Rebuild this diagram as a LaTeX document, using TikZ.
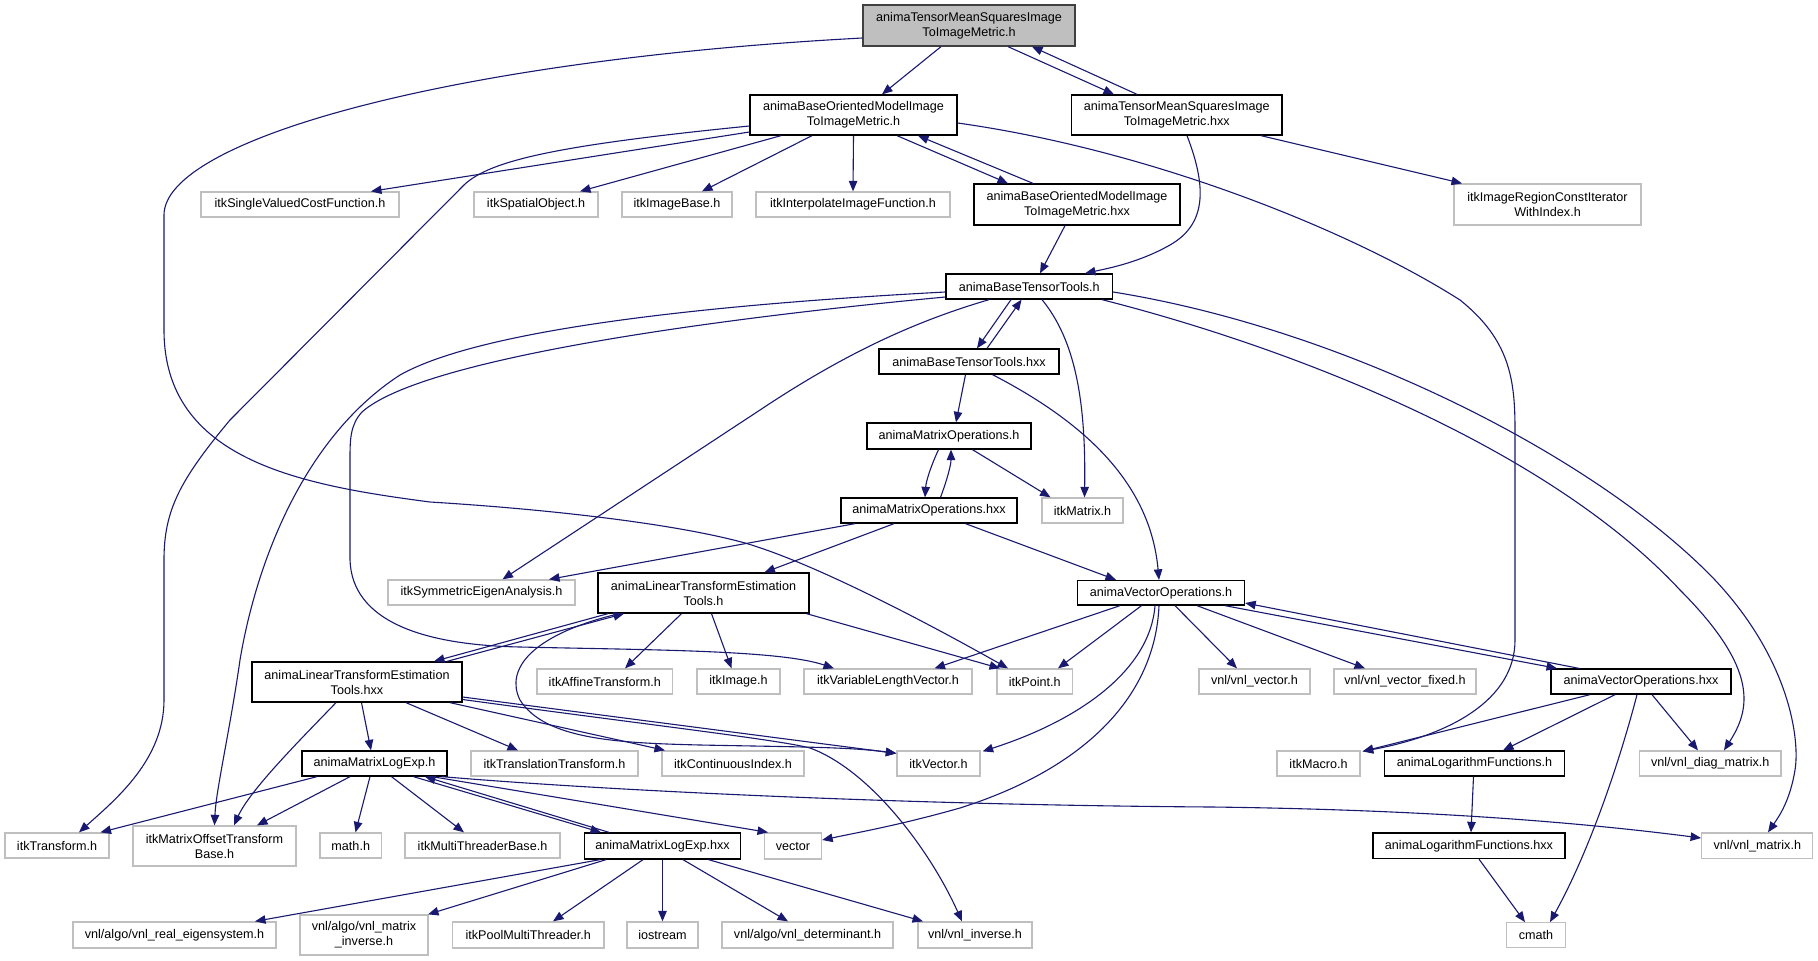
\documentclass[tikz,border=0pt]{standalone}
\usepackage{fontspec}
\setmainfont{Liberation Sans}
\usetikzlibrary{arrows.meta}
\definecolor{edgeblue}{HTML}{191970}
\definecolor{nodegray}{HTML}{BFBFBF}
\newcommand{\nf}{\fontsize{12.6pt}{15pt}\selectfont}
\tikzset{
  basebox/.style={rectangle, inner sep=0pt, align=center, font=\nf, line width=1.3pt, fill=white},
  abox/.style={basebox, draw=black},
  gbox/.style={basebox, draw=nodegray},
  tbox/.style={basebox, draw=black!75, fill=nodegray},
  dep/.style={draw=edgeblue, line width=1.1pt, -{Triangle[length=10.5pt,width=8.5pt]}}
}
\begin{document}
\begin{tikzpicture}[x=1pt,y=-1pt]
\useasboundingbox (0,0) rectangle (1818,961);
\fill[white] (0,0) rectangle (1818,961);
% nodes
\node[tbox, minimum width=212pt, minimum height=41pt] (top) at (969,25.5) {animaTensorMeanSquaresImage\\ToImageMetric.h};
\node[abox, minimum width=207pt, minimum height=40pt] (bomh) at (853.5,115) {animaBaseOrientedModelImage\\ToImageMetric.h};
\node[abox, minimum width=210.5pt, minimum height=40pt] (tmshxx) at (1176.75,115) {animaTensorMeanSquaresImage\\ToImageMetric.hxx};
\node[gbox, minimum width=198pt, minimum height=25pt] (svcf) at (300,204.5) {itkSingleValuedCostFunction.h};
\node[gbox, minimum width=124pt, minimum height=25pt] (spatial) at (536,204.5) {itkSpatialObject.h};
\node[gbox, minimum width=110pt, minimum height=25pt] (imagebase) at (677,204.5) {itkImageBase.h};
\node[gbox, minimum width=194pt, minimum height=25pt] (interp) at (853,204.5) {itkInterpolateImageFunction.h};
\node[abox, minimum width=206pt, minimum height=41pt] (bomhxx) at (1077,204.5) {animaBaseOrientedModelImage\\ToImageMetric.hxx};
\node[gbox, minimum width=187pt, minimum height=41pt] (iterwi) at (1547.5,204.5) {itkImageRegionConstIterator\\WithIndex.h};
\node[abox, minimum width=166.5pt, minimum height=25pt] (btt) at (1029.25,286.5) {animaBaseTensorTools.h};
\node[abox, minimum width=180pt, minimum height=25pt] (btthxx) at (969,361.5) {animaBaseTensorTools.hxx};
\node[abox, minimum width=164pt, minimum height=26pt] (mop) at (949,436) {animaMatrixOperations.h};
\node[abox, minimum width=176pt, minimum height=25pt] (mophxx) at (929,510.5) {animaMatrixOperations.hxx};
\node[gbox, minimum width=81pt, minimum height=25pt] (itkmatrix) at (1082.5,510.5) {itkMatrix.h};
\node[gbox, minimum width=187pt, minimum height=25pt] (symeig) at (481.5,592.5) {itkSymmetricEigenAnalysis.h};
\node[abox, minimum width=211pt, minimum height=40pt] (lteh) at (703.5,593) {animaLinearTransformEstimation\\Tools.h};
\node[abox, minimum width=167pt, minimum height=24.5pt] (voh) at (1161,592.75) {animaVectorOperations.h};
\node[abox, minimum width=210pt, minimum height=40pt] (ltehxx) at (357,682) {animaLinearTransformEstimation\\Tools.hxx};
\node[gbox, minimum width=135.5pt, minimum height=25pt] (affine) at (604.75,681.5) {itkAffineTransform.h};
\node[gbox, minimum width=83pt, minimum height=25pt] (itkimage) at (738.5,681.5) {itkImage.h};
\node[gbox, minimum width=168pt, minimum height=25pt] (varlen) at (888,681.5) {itkVariableLengthVector.h};
\node[gbox, minimum width=75.5pt, minimum height=25pt] (itkpoint) at (1034.75,681.5) {itkPoint.h};
\node[gbox, minimum width=111pt, minimum height=25pt] (vnlvector) at (1254.5,681.5) {vnl/vnl\_vector.h};
\node[gbox, minimum width=142pt, minimum height=25pt] (vnlvecfixed) at (1405,681.5) {vnl/vnl\_vector\_fixed.h};
\node[abox, minimum width=180pt, minimum height=25pt] (vohxx) at (1641,681.5) {animaVectorOperations.hxx};
\node[abox, minimum width=145pt, minimum height=25pt] (mleh) at (374.5,763.5) {animaMatrixLogExp.h};
\node[gbox, minimum width=167pt, minimum height=25pt] (transl) at (554.5,763.5) {itkTranslationTransform.h};
\node[gbox, minimum width=142pt, minimum height=25pt] (contidx) at (733,763.5) {itkContinuousIndex.h};
\node[gbox, minimum width=83pt, minimum height=25pt] (itkvector) at (938.5,763.5) {itkVector.h};
\node[gbox, minimum width=83pt, minimum height=25pt] (itkmacro) at (1318.5,763.5) {itkMacro.h};
\node[abox, minimum width=180pt, minimum height=25pt] (logfh) at (1474.5,763.5) {animaLogarithmFunctions.h};
\node[gbox, minimum width=141.5pt, minimum height=25pt] (diagm) at (1710.25,763.5) {vnl/vnl\_diag\_matrix.h};
\node[gbox, minimum width=104pt, minimum height=25pt] (itktransform) at (57,845.5) {itkTransform.h};
\node[gbox, minimum width=163pt, minimum height=40pt] (mobase) at (214.5,846) {itkMatrixOffsetTransform\\Base.h};
\node[gbox, minimum width=61.5pt, minimum height=25pt] (mathh) at (350.75,845.5) {math.h};
\node[gbox, minimum width=155pt, minimum height=25pt] (mtbase) at (482.5,845.5) {itkMultiThreaderBase.h};
\node[abox, minimum width=156pt, minimum height=26pt] (mlehxx) at (662.5,846) {animaMatrixLogExp.hxx};
\node[gbox, minimum width=57pt, minimum height=26pt] (vectorn) at (793,846) {vector};
\node[abox, minimum width=192pt, minimum height=25.5pt] (logfhxx) at (1469,845.75) {animaLogarithmFunctions.hxx};
\node[gbox, minimum width=111pt, minimum height=25.5pt] (vnlmatrix) at (1757.25,845.75) {vnl/vnl\_matrix.h};
\node[gbox, minimum width=203pt, minimum height=26pt] (realeig) at (174.5,935) {vnl/algo/vnl\_real\_eigensystem.h};
\node[gbox, minimum width=128pt, minimum height=40pt] (matinv) at (364,935) {vnl/algo/vnl\_matrix\\\_inverse.h};
\node[gbox, minimum width=151.5pt, minimum height=26pt] (poolmt) at (528.25,935) {itkPoolMultiThreader.h};
\node[gbox, minimum width=71pt, minimum height=26pt] (iostream) at (662.5,935) {iostream};
\node[gbox, minimum width=171pt, minimum height=26pt] (determ) at (807.5,935) {vnl/algo/vnl\_determinant.h};
\node[gbox, minimum width=114pt, minimum height=26pt] (vnlinv) at (975,935) {vnl/vnl\_inverse.h};
\node[gbox, minimum width=58.5pt, minimum height=25pt] (cmath) at (1536,935.25) {cmath};
% edges: top
\draw[dep] ([xshift=-28pt]top.south) -- ([xshift=28.5pt]bomh.north);
\draw[dep] ([xshift=39pt]top.south) -- ([xshift=-62.75pt]tmshxx.north);
\draw[dep] ([xshift=-39.75pt]tmshxx.north) -- ([xshift=63pt]top.south);
\draw[dep] ([yshift=-12.5pt]top.west) .. controls (450,60) and (164,140) .. (164,215) -- (164,330) .. controls (164,460) and (300,485) .. (430,502) .. controls (560,510) and (680,525) .. (745,543) .. controls (820,565) and (940,630) .. ([xshift=-26.75pt]itkpoint.north);
% bomh
\draw[dep] ([yshift=-17pt]bomh.west) -- ([xshift=71pt]svcf.north);
\draw[dep] ([yshift=-11pt]bomh.west) .. controls (560,145) and (490,160) .. (464,185) -- (230,420) .. controls (180,480) and (164,510) .. (164,560) -- (164,700) .. controls (164,760) and (115,800) .. ([xshift=22pt]itktransform.north);
\draw[dep] ([xshift=-72.5pt]bomh.south) -- ([xshift=44pt]spatial.north);
\draw[dep] ([xshift=-41.5pt]bomh.south) -- ([xshift=25pt]imagebase.north);
\draw[dep] (bomh.south) -- (interp.north);
\draw[dep] ([xshift=43.5pt]bomh.south) -- ([xshift=-69pt]bomhxx.north);
\draw[dep] ([xshift=-44pt]bomhxx.north) -- ([xshift=64.5pt]bomh.south);
\draw[dep] ([yshift=-8pt]bomh.east) .. controls (1150,150) and (1350,230) .. (1460,300) .. controls (1510,340) and (1515,380) .. (1515,430) -- (1515,640) .. controls (1515,700) and (1450,735) .. ([xshift=2pt,yshift=-1pt]itkmacro.north east);
% tmshxx, bomhxx
\draw[dep] ([xshift=10.25pt]tmshxx.south) .. controls (1208,190) and (1205,225) .. (1170,245) .. controls (1140,262) and (1110,268) .. ([xshift=55.75pt]btt.north);
\draw[dep] ([xshift=84.25pt]tmshxx.south) -- ([xshift=-85.5pt]iterwi.north);
\draw[dep] ([xshift=-12pt]bomhxx.south) -- ([xshift=10.75pt]btt.north);
% btt
\draw[dep] ([yshift=-5.5pt]btt.west) .. controls (700,305) and (480,330) .. (400,375) .. controls (300,440) and (255,570) .. (240,660) .. controls (230,730) and (216,790) .. (mobase.north);
\draw[dep] ([yshift=-10.5pt]btt.west) .. controls (700,320) and (420,360) .. (362,412) .. controls (350,425) and (350,440) .. (350,460) -- (350,560) .. controls (352,620) and (420,645) .. (520,647) .. controls (650,650) and (780,650) .. ([xshift=-54pt]varlen.north);
\draw[dep] ([xshift=-40.25pt]btt.south) .. controls (920,320) and (850,350) .. (760,410) -- ([xshift=21pt]symeig.north);
\draw[dep] ([xshift=-18.25pt]btt.south) -- ([xshift=8pt]btthxx.north);
\draw[dep] ([xshift=18pt]btthxx.north) -- ([xshift=-7.75pt]btt.south);
\draw[dep] ([xshift=12.75pt]btt.south) .. controls (1075,340) and (1086,400) .. ([xshift=2pt]itkmatrix.north);
\draw[dep] ([xshift=72.75pt]btt.south) .. controls (1300,350) and (1550,450) .. (1680,590) .. controls (1760,670) and (1750,710) .. ([xshift=13.75pt]diagm.north);
\draw[dep] ([yshift=-5.5pt]btt.east) .. controls (1350,330) and (1600,460) .. (1715,580) .. controls (1790,660) and (1800,740) .. (1795,770) .. controls (1790,800) and (1780,815) .. ([xshift=10.75pt]vnlmatrix.north);
% btthxx, mop
\draw[dep] ([xshift=-3.5pt]btthxx.south) -- ([xshift=7pt]mop.north);
\draw[dep] ([xshift=23.5pt]btthxx.south) .. controls (1080,420) and (1150,480) .. ([xshift=-2pt]voh.north);
\draw[dep] ([xshift=-10.5pt]mop.south) .. controls (930,468) and (926,482) .. ([xshift=-4pt]mophxx.north);
\draw[dep] ([xshift=11.5pt]mophxx.north) .. controls (947,480) and (951,465) .. ([xshift=2pt]mop.south);
\draw[dep] ([xshift=23.5pt]mop.south) -- ([xshift=-32pt]itkmatrix.north);
\draw[dep] ([xshift=-35pt]mophxx.south) -- ([xshift=61pt]lteh.north);
\draw[dep] ([xshift=-74pt]mophxx.south) -- ([xshift=67.5pt]symeig.north);
\draw[dep] ([xshift=36.5pt]mophxx.south) -- ([xshift=-45pt]voh.north);
% lteh
\draw[dep] ([xshift=-95.5pt]lteh.south) -- ([xshift=77pt]ltehxx.north);
\draw[dep] ([xshift=90pt]ltehxx.north) -- ([xshift=-79.5pt]lteh.south);
\draw[dep] ([xshift=-22pt]lteh.south) -- ([xshift=20.25pt]affine.north);
\draw[dep] ([xshift=8pt]lteh.south) -- ([xshift=-7pt]itkimage.north);
\draw[dep] ([xshift=103pt]lteh.south) -- ([xshift=-34.75pt]itkpoint.north);
\draw[dep] ([xshift=-84.5pt]lteh.south) .. controls (530,635) and (505,670) .. (520,700) .. controls (545,740) and (620,743) .. (700,745) .. controls (800,747) and (850,747) .. ([yshift=-3pt]itkvector.north west);
% ltehxx
\draw[dep] ([yshift=-15pt]ltehxx.east) -- ([yshift=-3pt]itkvector.north west);
\draw[dep] ([yshift=-17.5pt]ltehxx.east) .. controls (650,725) and (780,740) .. (810,748) .. controls (870,770) and (930,850) .. ([xshift=-13pt]vnlinv.north);
\draw[dep] ([xshift=93pt]ltehxx.south) -- ([xshift=-68pt]contidx.north);
\draw[dep] ([xshift=49pt]ltehxx.south) -- ([xshift=-36.5pt]transl.north);
\draw[dep] ([xshift=4.5pt]ltehxx.south) -- ([xshift=-3.5pt]mleh.north);
\draw[dep] ([xshift=-21pt]ltehxx.south) .. controls (300,740) and (250,790) .. ([xshift=19.5pt]mobase.north);
% mleh
\draw[dep] ([xshift=-57.5pt]mleh.south) -- ([xshift=43.5pt]itktransform.north);
\draw[dep] ([xshift=-24.5pt]mleh.south) -- ([xshift=42.5pt]mobase.north);
\draw[dep] ([xshift=-4.5pt]mleh.south) -- ([xshift=4.75pt]mathh.north);
\draw[dep] ([xshift=17pt]mleh.south) -- ([xshift=-18.5pt]mtbase.north);
\draw[dep] ([xshift=39pt]mleh.south) -- ([xshift=-61.5pt]mlehxx.north);
\draw[dep] ([xshift=-53.5pt]mlehxx.north) -- ([xshift=50.5pt]mleh.south);
\draw[dep] ([xshift=57.5pt]mleh.south) -- ([xshift=-25pt]vectorn.north);
\draw[dep] ([xshift=67.5pt]mleh.south) .. controls (600,790) and (900,805) .. (1212,807) .. controls (1450,810) and (1600,825) .. ([yshift=7.75pt]vnlmatrix.west);
% mlehxx
\draw[dep] ([xshift=-62.5pt]mlehxx.south) -- ([xshift=80.5pt]realeig.north);
\draw[dep] ([xshift=-56.5pt]mlehxx.south) -- ([xshift=64pt]matinv.north);
\draw[dep] ([xshift=-19.5pt]mlehxx.south) -- ([xshift=24.75pt]poolmt.north);
\draw[dep] (mlehxx.south) -- (iostream.north);
\draw[dep] ([xshift=20.5pt]mlehxx.south) -- ([xshift=-19.5pt]determ.north);
\draw[dep] ([xshift=46pt]mlehxx.south) -- ([xshift=-52pt]vnlinv.north);
% voh
\draw[dep] ([xshift=-41pt]voh.south) -- ([xshift=46.5pt]varlen.north);
\draw[dep] ([xshift=-19.5pt]voh.south) -- ([xshift=23.25pt]itkpoint.north);
\draw[dep] ([xshift=-6pt]voh.south) .. controls (1150,670) and (1080,720) .. ([xshift=2pt,yshift=-1pt]itkvector.north east);
\draw[dep] ([xshift=-2pt]voh.south) .. controls (1155,700) and (1080,770) .. (960,808) .. controls (900,825) and (860,832) .. ([yshift=6pt]vectorn.east);
\draw[dep] ([xshift=14pt]voh.south) -- ([xshift=-17.5pt]vnlvector.north);
\draw[dep] ([xshift=36pt]voh.south) -- ([xshift=-40pt]vnlvecfixed.north);
\draw[dep] ([xshift=64pt]voh.south) -- ([xshift=-84pt]vohxx.north);
\draw[dep] ([xshift=-62pt]vohxx.north) -- ([yshift=-10.25pt]voh.east);
% vohxx
\draw[dep] ([xshift=-51pt]vohxx.south) -- ([xshift=2pt,yshift=-1pt]itkmacro.north east);
\draw[dep] ([xshift=-26pt]vohxx.south) -- ([xshift=28.5pt]logfh.north);
\draw[dep] ([xshift=-4pt]vohxx.south) .. controls (1620,760) and (1590,850) .. ([xshift=14pt]cmath.north);
\draw[dep] ([xshift=11pt]vohxx.south) -- ([xshift=-12.25pt]diagm.north);
\draw[dep] ([xshift=-1pt]logfh.south) -- ([xshift=2pt]logfhxx.north);
\draw[dep] ([xshift=10pt]logfhxx.south) -- ([xshift=-11pt]cmath.north);
\end{tikzpicture}
\end{document}
